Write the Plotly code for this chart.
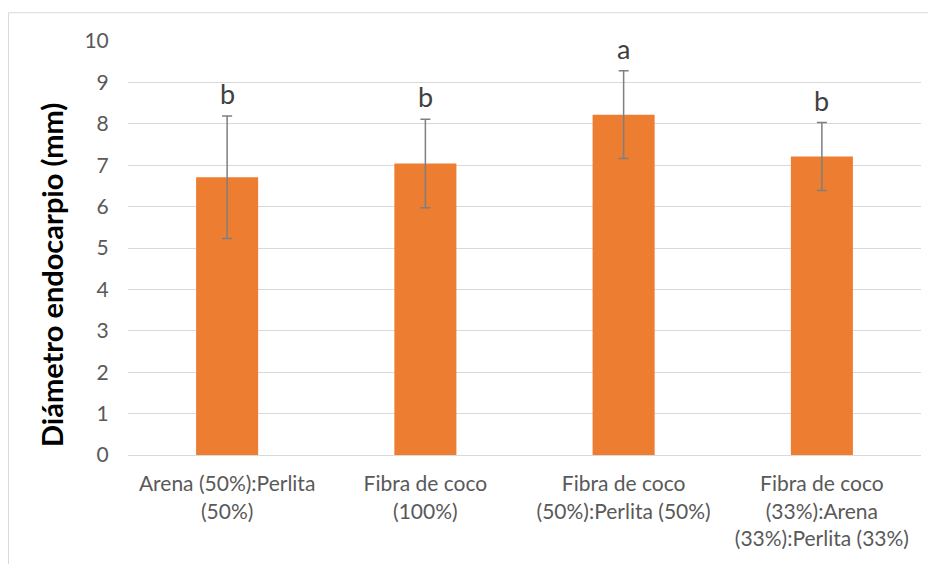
import plotly.graph_objects as go

categories = ["Arena (50%):Perlita<br>(50%)", "Fibra de coco<br>(100%)",
              "Fibra de coco<br>(50%):Perlita (50%)", "Fibra de coco<br>(33%):Arena<br>(33%):Perlita (33%)"]
means = [6.71, 7.04, 8.22, 7.21]
errors = [1.48, 1.07, 1.06, 0.82]
letters = ["b", "b", "a", "b"]
y_ticks = list(range(0, 11))
y_title = "Diámetro endocarpio (mm)"

# plot area in figure pixels (page has an 8px body margin)
L, T, R, B = 120, 33, 23, 117
W, H = 936, 564
pw, ph = W - L - R, H - T - B

fig = go.Figure()
fig.add_trace(go.Bar(
    x=categories, y=means, width=0.313,
    marker=dict(color="#ED7D31", line=dict(width=0)),
    error_y=dict(type="data", array=errors, visible=True, color="#7f7f7f", thickness=1.5, width=5),
))
for c, m, e, l in zip(categories, means, errors, letters):
    fig.add_annotation(x=c, y=m + e, text=l, showarrow=False, yanchor="bottom", yshift=4,
                       font=dict(size=27, color="#404040", family="Lato"))

# y-axis title (Excel places it slightly below the plot centre)
fig.add_annotation(xref="paper", yref="paper", x=(43 - L) / pw, y=(H - B - 267) / ph,
                   text="<b>" + y_title + "</b>", textangle=-90, showarrow=False,
                   xanchor="center", yanchor="middle",
                   font=dict(size=29, color="black", family="Lato"))

# chart frame
fig.add_shape(type="rect", xref="paper", yref="paper",
              x0=(0.5 - L) / pw, x1=(W + 20 - L) / pw,
              y0=-(B + 20) / ph, y1=(ph + T - 4.7) / ph,
              line=dict(color="#d9d9d9", width=1), fillcolor="rgba(0,0,0,0)", layer="below")

fig.update_layout(
    width=W, height=H,
    margin=dict(l=L, r=R, t=T, b=B),
    paper_bgcolor="white", plot_bgcolor="white",
    showlegend=False,
    font=dict(family="Lato", color="#595959", size=21),
)
fig.update_xaxes(showgrid=False, showline=True, linecolor="#d9d9d9", linewidth=1,
                 ticks="outside", tickcolor="white", ticklen=10, tickfont=dict(size=21, color="#595959"))
fig.update_yaxes(range=[0, 10], tickvals=y_ticks, showgrid=True, gridcolor="#d9d9d9", gridwidth=1,
                 zeroline=False, showline=False, ticks="outside", tickcolor="white", ticklen=14,
                 tickfont=dict(size=21, color="#595959"))
fig.write_html("out.html")
